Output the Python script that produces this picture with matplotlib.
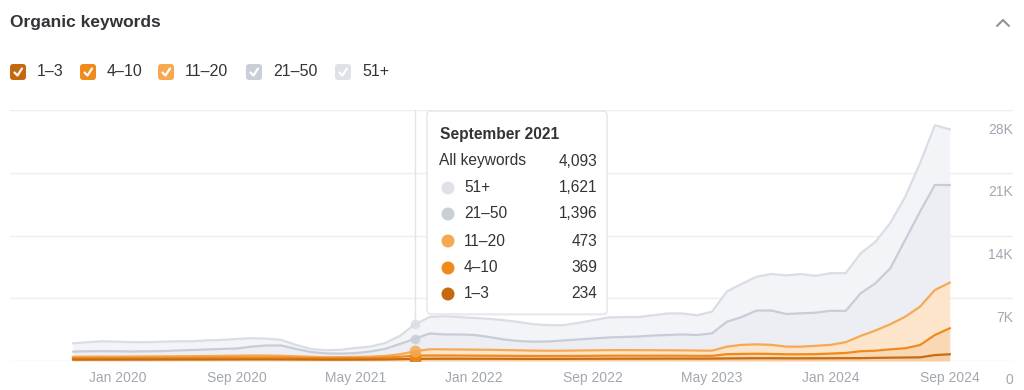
import numpy as np
import matplotlib
matplotlib.use("Agg")
import matplotlib.pyplot as plt
from matplotlib.patches import FancyBboxPatch, Circle

plt.rcParams['font.family'] = ['Liberation Sans', 'DejaVu Sans']

# monthly data, Oct 2019 .. Sep 2024
months = []
for y in range(2019, 2025):
    for m in ["Jan", "Feb", "Mar", "Apr", "May", "Jun", "Jul", "Aug", "Sep", "Oct", "Nov", "Dec"]:
        months.append(f"{m} {y}")
months = months[9:9 + 60]

tick_labels = ["Jan 2020", "Sep 2020", "May 2021", "Jan 2022", "Sep 2022", "May 2023", "Jan 2024", "Sep 2024"]

kw_1_3 = [150, 150, 155, 155, 160, 160, 165, 165, 170, 170, 175, 180, 185, 185, 180, 170, 160, 150, 150, 155, 160, 175, 205, 234,
          250, 255, 255, 250, 250, 245, 240, 235, 235, 240, 245, 250, 255, 260, 260, 265, 270, 270, 265, 270,
          290, 300, 310, 310, 300, 300, 305, 310, 315, 320, 350, 370, 390, 410, 660, 750]
kw_4_10 = [170, 175, 175, 175, 180, 180, 185, 185, 190, 195, 200, 205, 210, 210, 200, 185, 170, 160, 160, 165, 175, 200, 260, 369,
           360, 355, 350, 345, 340, 335, 330, 325, 320, 320, 325, 330, 335, 335, 330, 330, 325, 320, 310, 300,
           470, 490, 500, 480, 450, 450, 460, 520, 580, 770, 800, 930, 1030, 1370, 2240, 2900]
kw_11_20 = [150, 155, 160, 160, 160, 165, 170, 175, 180, 190, 200, 210, 220, 220, 200, 170, 140, 120, 120, 130, 150, 190, 280, 473,
            700, 690, 680, 670, 660, 640, 620, 600, 590, 590, 600, 610, 620, 620, 620, 610, 600, 600, 590, 580,
            840, 1010, 1050, 1010, 850, 850, 935, 970, 1205, 1710, 2250, 2800, 3520, 4280, 5020, 5090]
kw_21_50 = [570, 600, 610, 590, 560, 575, 580, 645, 680, 725, 765, 795, 985, 1115, 1150, 825, 530, 420, 390, 430, 565, 785, 1155, 1396,
            1760, 1660, 1675, 1635, 1430, 1180, 1040, 990, 1035, 1140, 1230, 1320, 1410, 1465, 1520, 1635, 1705, 1770, 1735, 1940,
            2780, 3100, 3770, 3830, 3640, 3720, 3690, 3810, 3480, 4750, 5270, 6240, 8560, 10600, 11710, 10890]
kw_51_plus = [930, 1020, 1100, 1070, 1040, 1020, 1050, 1030, 980, 1020, 1010, 1060, 950, 770, 620, 450, 350, 350, 430, 570, 550, 650, 900, 1621,
              1830, 2040, 1940, 1900, 2020, 2150, 2120, 1950, 1820, 1710, 1850, 2040, 2230, 2220, 2170, 2260, 2400, 2340, 2200, 2410,
              3370, 3700, 3770, 4070, 4310, 4380, 4110, 4190, 4220, 4450, 4630, 5060, 4800, 5390, 6670, 6220]

series_names = ["1–3", "4–10", "11–20", "21–50", "51+"]
series = [kw_1_3, kw_4_10, kw_11_20, kw_21_50, kw_51_plus]
line_colors = ["#C76C10", "#EF8A1C", "#F5A955", "#C7CCD6", "#DADDE5"]
fill_colors = ["#F6CFA6", "#FBD8B5", "#FDE5CC", "#ECEEF3", "#F3F4F8"]
box_colors = ["#C4690E", "#F08A1C", "#F6A94F", "#C9CED8", "#DEE1E8"]

y_ticks = [0, 7000, 14000, 21000, 28000]
y_tick_labels = ["0", "7K", "14K", "21K", "28K"]

hover = months.index("Sep 2021")

W, H = 1024, 390
fig = plt.figure(figsize=(W / 100, H / 100), dpi=100)

ax = fig.add_axes([10 / W, 29 / H, 1003 / W, 251 / H])
x = np.arange(len(months))
cum = np.cumsum(np.array(series, dtype=float), axis=0)
prev = np.zeros(len(months))
for i in range(len(series)):
    ax.fill_between(x, prev, cum[i], color=fill_colors[i], lw=0, zorder=2 + i * 0.1)
    prev = cum[i]
for i in range(len(series) - 1, -1, -1):
    ax.plot(x, cum[i], color=line_colors[i], lw=1.6, zorder=3, solid_joinstyle="round")

for yt in y_ticks:
    ax.axhline(yt, color="#EDEEF1", lw=1, zorder=1)
ax.axvline(hover, color="#E2E4EA", lw=1, zorder=1)
for i in range(len(series)):
    ms = 8.5 if i < 3 else 7
    ax.plot(hover, cum[i][hover], "o", ms=ms, color=line_colors[i], alpha=0.85, mec="none", zorder=4)

ax.set_xlim((10 - 73) / 14.86, (1013 - 73) / 14.86)
ax.set_ylim(0, 28000)
ax.set_xticks([months.index(t) for t in tick_labels])
ax.set_xticklabels(tick_labels, fontsize=10, color="#A3A8B0")
ax.tick_params(axis="x", length=0, pad=7)
ax.set_yticks([])
for s in ax.spines.values():
    s.set_visible(False)
for yt, lab in zip(y_ticks, y_tick_labels):
    ax.annotate(lab, xy=(1, yt), xycoords=("axes fraction", "data"), xytext=(0, -9),
                textcoords="offset points", ha="right", va="top", fontsize=10, color="#A3A8B0")

# overlay in pixel coordinates
ov = fig.add_axes([0, 0, 1, 1])
ov.set_xlim(0, W)
ov.set_ylim(H, 0)
ov.axis("off")
ov.patch.set_alpha(0)

ov.text(10, 22, "Organic keywords", fontsize=12.5, fontweight="bold", color="#333338", va="center", ha="left")
ov.plot([997, 1003, 1009], [26, 20, 26], color="#8E939B", lw=1.5, solid_capstyle="round")

box_x = [10, 80, 158, 246, 335]
for bx, name, c in zip(box_x, series_names, box_colors):
    ov.add_patch(FancyBboxPatch((bx + 1, 65), 14, 14, boxstyle="round,pad=1,rounding_size=3",
                                fc=c, ec="none"))
    ov.plot([bx + 4.5, bx + 7.5, bx + 12], [72.5, 75.5, 68.5], color="white", lw=1.6,
            solid_capstyle="round", solid_joinstyle="round")
    ov.text(bx + 27, 72, name, fontsize=11.5, color="#333338", va="center", ha="left")

# tooltip
ov.add_patch(FancyBboxPatch((429, 113), 178, 202, boxstyle="round,pad=1,rounding_size=4",
                            fc="#E9EAEE", ec="none", alpha=0.5, zorder=5))
ov.add_patch(FancyBboxPatch((427, 111), 180, 203, boxstyle="round,pad=0,rounding_size=4",
                            fc="white", ec="#E4E6EA", lw=1, zorder=6))
ov.text(440, 134, "September 2021", fontsize=11.2, fontweight="bold", color="#333338", va="center", zorder=7)
total = int(cum[-1][hover])
ov.text(439, 161, "All keywords", fontsize=11.2, color="#333338", va="center", zorder=7)
ov.text(597, 161, f"{total:,}", fontsize=11.2, color="#333338", va="center", ha="right", zorder=7)
row_y = [188, 214, 241, 268, 294]
for k, ry in enumerate(row_y):
    i = len(series) - 1 - k
    ov.add_patch(Circle((448, ry), 6.5, fc=box_colors[i], ec="none", zorder=7))
    ov.text(464, ry, series_names[i], fontsize=11.2, color="#333338", va="center", zorder=7)
    ov.text(597, ry, f"{series[i][hover]:,}", fontsize=11.2, color="#333338", va="center", ha="right", zorder=7)

fig.savefig("out.png", dpi=100)
